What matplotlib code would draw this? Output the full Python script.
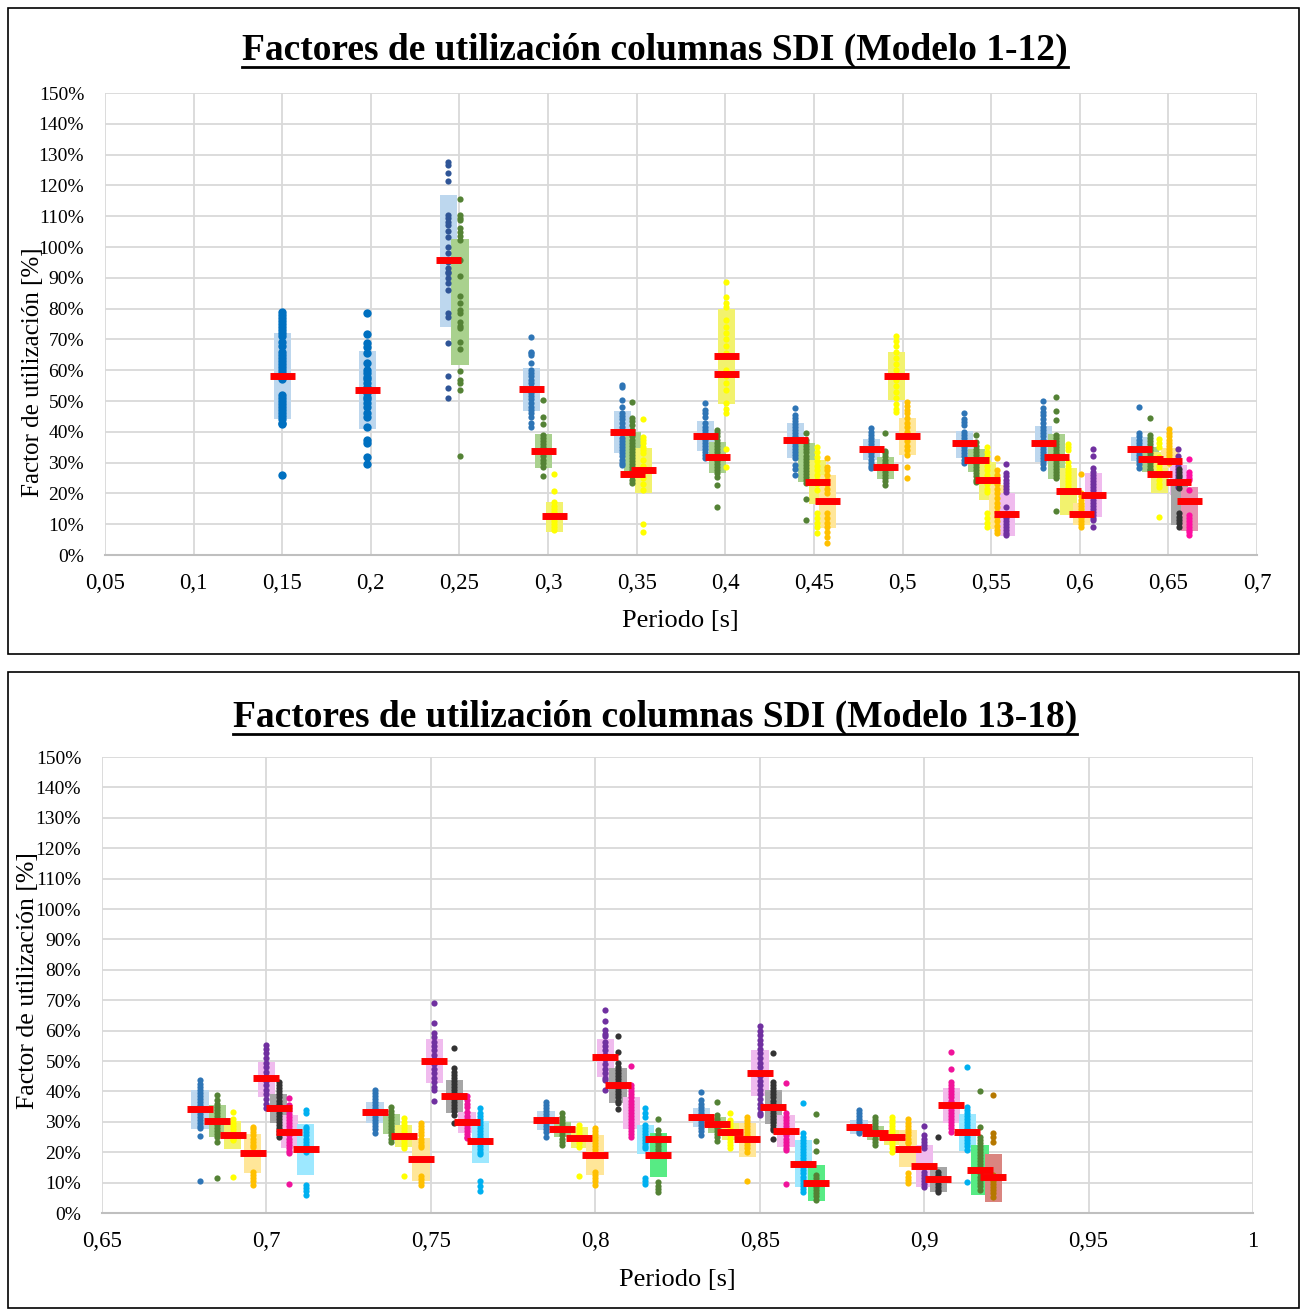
import matplotlib.pyplot as plt
from matplotlib.patches import Rectangle
from matplotlib.lines import Line2D

plt.rcParams['font.family'] = ['Liberation Serif', 'DejaVu Serif']

# ---------------- datos: Modelo 1-12 ----------------
top_x = [0.150, 0.198, 0.2436, 0.2503,
         0.2904, 0.2972, 0.3034,
         0.3418, 0.3474, 0.3536,
         0.3886, 0.3954, 0.4005,
         0.4394, 0.4456, 0.4518, 0.4575,
         0.4823, 0.4902, 0.4964, 0.5026,
         0.5348, 0.5415, 0.5477, 0.5534, 0.5585,
         0.5793, 0.5867, 0.5935, 0.6008, 0.6076,
         0.6335, 0.6397, 0.6448, 0.6505, 0.6555, 0.6560, 0.6617]
top_serie = ['azul0', 'azul0', 'azul2', 'verde',
             'azul', 'verde', 'amarillo',
             'azul', 'verde', 'amarillo',
             'azul', 'verde', 'amarillo',
             'azul', 'verde', 'amarillo', 'naranja',
             'azul', 'verde', 'amarillo', 'naranja',
             'azul', 'verde', 'amarillo', 'naranja', 'morado',
             'azul', 'verde', 'amarillo', 'naranja', 'morado',
             'azul', 'verde', 'amarillo', 'naranja', 'morado', 'negro', 'rosa']
top_lo = [44, 41, 74.1, 61.8,
          46.9, 28.3, 7.6,
          33, 26.7, 20.1,
          33.8, 26.5, 49,
          31.6, 23.8, 16.5, 8.8,
          30.8, 24.8, 50.3, 32.5,
          31.6, 26.8, 17.9, 8.4, 6.3,
          30.3, 24.6, 13.1, 9.7, 12.4,
          30.4, 27, 20.2, 28.1, 19.5, 9.7, 7.9]
top_hi = [72, 66.2, 116.9, 102.6,
          60.6, 39.3, 17.3,
          46.8, 39.9, 34.7,
          43.5, 36.7, 79.9,
          43, 36.4, 30.8, 26,
          37.7, 31.8, 65.9, 44.6,
          40.3, 34.4, 30.3, 22.7, 20,
          42, 39.3, 28.4, 16.8, 26.5,
          38.2, 35.2, 33.5, 34.6, 29.2, 24.4, 22]
top_media = [[58], [53.6], [95.7], [],
             [53.9], [33.8], [12.8],
             [39.9], [26.2], [27.6],
             [38.7], [31.7], [64.6, 58.8],
             [37.3], [], [23.7], [17.4],
             [34.4], [28.5], [58.1], [38.6],
             [36.5], [30.7], [24.4], [], [13.2],
             [36.4], [31.9], [20.9], [13.3], [19.6],
             [34.5], [31.1], [26.2], [30.4], [23.6], [], [17.4]]
top_puntos = [
    [79, 78, 77, 76, 75, 74, 73, 72, 71, 69, 68, 66, 65, 64, 63, 62, 61, 60, 59, 58, 57,
     52, 51, 50, 49, 48, 47, 46, 45, 44, 43, 42.5, 26],
    [78.6, 71.7, 68.8, 67.6, 65.6, 62.3, 60, 59, 57.9, 57, 55.8, 54.5, 53.6, 52.5, 51.4,
     50.5, 49.3, 48, 46, 44.9, 41.7, 37.3, 36.4, 31.9, 29.5],
    [127.7, 126.6, 124.1, 121.4, 110.4, 109.3, 108.2, 107.1, 105.3, 103.1, 99.9, 97.9, 95,
     93.1, 92, 91.5, 89.8, 88.2, 86, 78.5, 77.4, 68.7, 58.1, 54.2, 50.9],
    [115.7, 110.4, 109.5, 108.8, 106.2, 105, 103.5, 102.3, 95.8, 90.7, 84.2, 81.7, 79.5,
     78.6, 75.7, 74.5, 73.6, 69.3, 66.8, 59.7, 56.8, 55.8, 53.6, 32.1],
    [70.9, 66, 65.5, 64.9, 62.2, 60, 59, 58, 56.8, 55.8, 54.5, 53.5, 52.5, 51.5, 50.5, 49.5,
     48.1, 47, 46, 44.9, 42.8, 41.7],
    [50.3, 44.9, 42.5, 39, 38, 37, 36, 35, 34, 33, 32, 31, 30, 28.7, 25.6],
    [26.3, 20.8, 17.3, 16, 15, 14, 13, 12, 11, 10, 9, 8.1],
    [55.2, 54.6, 50.3, 48.1, 46, 45, 44, 43, 41.7, 38, 37, 36, 35, 34, 33, 32, 31, 30, 29.2],
    [49.6, 44.5, 43.5, 42.2, 40.6, 39.5, 38.5, 37.5, 36.5, 35.5, 34.5, 33.5, 32.5, 31.5,
     30.5, 29.5, 28.5, 27.5, 26.5, 25.5, 24.5, 23.4],
    [44.2, 38.4, 37.3, 36.4, 35, 34, 33, 31, 29, 27, 25, 23, 21.1, 10.1, 7.6],
    [49.5, 47, 46, 44.9, 42.8, 41.5, 40.5, 39.5, 38.5, 37.5, 36.5, 35.5, 34.5, 33.5, 32.5, 31.5],
    [40.6, 39.6, 38.5, 37.5, 36.5, 35.5, 34.5, 33.5, 32.5, 31.5, 30.5, 29.5, 28.5, 27.5,
     26.5, 25.4, 22.7, 15.7],
    [88.5, 83.9, 81.8, 80.6, 76.3, 74, 72, 70, 68, 65.6, 60, 58, 56, 53.6, 49.3, 47.5, 46.1,
     34.4, 28.7],
    [47.8, 45.5, 44.5, 43.5, 42.5, 41.5, 40.5, 39.5, 38.5, 37.5, 36.5, 35.5, 34.5, 33.5,
     32.5, 31.5, 29.2, 28, 26],
    [39.5, 37.3, 36.3, 35.3, 34.3, 33.3, 32.3, 31.3, 30.3, 29.3, 28.3, 27.3, 26.3, 25.3,
     24.3, 23.4, 18.2, 11.3],
    [35.2, 33.5, 31.9, 30.5, 29, 27.5, 26, 24.5, 23, 21.1, 13.5, 12, 10.5, 9, 7],
    [31.4, 28.7, 27.5, 26, 24.5, 23, 21.5, 20, 13.6, 12, 10.5, 9, 7.5, 6, 3.9],
    [41.2, 40, 39, 38, 37, 36, 35, 34, 33, 32, 31, 30, 29, 28.2],
    [39.6, 33.9, 33.1, 32, 31, 30, 29, 28, 27, 26, 25, 24, 22.7],
    [71, 69.5, 68, 66, 64, 62, 60, 58, 56.8, 55, 53, 51, 49, 47.5, 46.4],
    [49.8, 48.5, 47, 46, 44.5, 43, 41.5, 40, 38.5, 37, 35.5, 34, 32.5, 28.7, 24.9],
    [46, 44.2, 43.2, 42.2, 40, 39, 38, 37, 36, 35, 34, 33, 32, 31, 29.8],
    [39, 36.8, 35.5, 34.5, 33.5, 32.5, 31.5, 30.5, 29.5, 28.5, 27.5, 26.5, 25.5, 24.5, 23.8],
    [35.2, 33.5, 32, 30.5, 29, 27.5, 26, 24.5, 23, 21.5, 20.6, 13.6, 12, 10.5, 9.2],
    [31.4, 27.6, 26, 24.5, 23, 21.5, 20, 18.5, 17, 15.5, 14, 12.5, 11, 9.5, 8, 7.1],
    [29.4, 26.6, 25.5, 24.5, 23.5, 22.5, 21.5, 20.6, 15.7, 12, 11, 10, 9, 8, 7, 6.5],
    [50.1, 47.7, 46.5, 45.5, 44, 42.8, 41.7, 40.5, 39.5, 38.5, 37.5, 36.5, 35.5, 34.5, 33.5,
     32.5, 31.5, 30.5, 29.5, 28.1],
    [51.2, 46.9, 43.8, 39, 38, 37, 36, 35, 34, 33, 32, 31, 30, 29, 28, 27, 26, 24.9, 14.4],
    [36, 35, 34.1, 30.3, 29, 28, 27, 26, 25, 24, 23, 22, 21.1],
    [26.2, 20, 19, 18, 17, 16, 15, 14, 13, 12, 11, 10, 9.2],
    [34.3, 32.1, 28.1, 27, 26, 25, 24, 23, 22, 21, 20, 19, 18, 17, 16, 15, 14, 13, 12, 11.4, 9.1],
    [48.1, 39.5, 38.5, 37.5, 36.5, 35.5, 34.5, 33.5, 32.5, 31.5, 30.5, 29.5, 28.1],
    [44.4, 39, 38, 37, 36, 35, 34, 33, 32, 31, 30, 29, 28, 27.6],
    [37.6, 36.5, 35.2, 31.9, 30.5, 29, 27.5, 26, 24.5, 23, 22.2, 12.4],
    [40.8, 39.5, 38.5, 37.5, 36.5, 35.5, 34.5, 33.5, 32.5, 31.5, 30.5, 29.8],
    [34.3, 32.1, 29, 28, 27, 26, 25, 24, 23, 22],
    [28, 27, 26, 25.4, 24, 23, 21.6, 13.5, 12.5, 11.5, 10.5, 9.2],
    [31.1, 27, 26, 25, 24.4, 21.1, 13, 12, 11, 10, 9, 8, 7.5, 6.5],
]

# ---------------- datos: Modelo 13-18 ----------------
bot_x = [0.6798, 0.6850, 0.6898, 0.6959, 0.6999, 0.7038, 0.7069, 0.7120,
         0.7330, 0.7379, 0.7418, 0.7470, 0.7510, 0.7571, 0.7610, 0.7650,
         0.7850, 0.7899, 0.7951, 0.7999, 0.8030, 0.8069, 0.8109, 0.8152, 0.8191,
         0.8322, 0.8370, 0.8410, 0.8462, 0.8501, 0.8541, 0.8580, 0.8632, 0.8672,
         0.8802, 0.8851, 0.8903, 0.8951, 0.9000, 0.9043, 0.9082, 0.9131, 0.9170, 0.9210]
bot_serie = ['azul', 'verde', 'amarillo', 'naranja', 'morado', 'negro', 'magenta', 'cian',
             'azul', 'verde', 'amarillo', 'naranja', 'morado', 'negro', 'magenta', 'cian',
             'azul', 'verde', 'amarillo', 'naranja', 'morado', 'negro', 'magenta', 'cian', 'verde2',
             'azul', 'verde', 'amarillo', 'naranja', 'morado', 'negro', 'magenta', 'cian', 'verde2',
             'azul', 'verde', 'amarillo', 'naranja', 'morado', 'negro', 'magenta', 'cian', 'verde2',
             'marron']
bot_lo = [27.6, 25.1, 21, 13.1, 38.3, 29.5, 21.3, 12.5,
          29.5, 26, 21.6, 10.6, 42.7, 32.8, 26.4, 16.6,
          27.3, 25.1, 21.5, 12.5, 44.6, 36.1, 27.7, 19.4, 11.7,
          28.4, 26.2, 24, 18.5, 38.5, 29.2, 21.6, 8.5, 4,
          25.9, 24, 22.4, 15.2, 8.7, 7, 29.5, 20.4, 5.8, 3.7]
bot_hi = [40.5, 35.5, 30.4, 26, 49.8, 39.1, 32.2, 29.3,
          36.4, 32.6, 28.9, 24.6, 57.1, 43.8, 33.3, 30.3,
          33.6, 30, 28.2, 25.7, 57.1, 47.6, 38.1, 28.9, 26.2,
          34.4, 31.5, 29.5, 29.5, 53.6, 40.5, 32.2, 24, 15.8,
          30.6, 28.6, 27.3, 27.3, 22.3, 15.2, 41, 32.6, 22.3, 19.4]
bot_media = [[34.1], [30.4], [25.7], [19.6], [44.3], [34.4], [26.7], [21.2],
             [33.2], [], [25.4], [17.8], [49.9], [38.5], [29.8], [23.7],
             [30.6], [27.7], [24.8], [19.1], [51.2], [42], [], [], [24.3, 19.1],
             [31.7], [29.2], [26.7], [24.2], [46.2], [34.8], [27], [16.2], [10],
             [28.3], [26.4], [25], [21.2], [15.6], [11.3], [35.6], [26.5], [14.2], [11.7]]
bot_puntos = [
    [43.8, 42.5, 41.5, 40.5, 39.5, 38.5, 37.5, 36.5, 35.5, 34.5, 33.5, 32.5, 31.5, 30.5,
     29.5, 28.5, 27.9, 25.3, 10.5],
    [38.7, 37.2, 36, 35, 34, 33, 32, 31, 30, 29, 28, 27, 26, 25, 23.5, 11.4],
    [33.2, 30.8, 29.5, 28.5, 27.5, 26.5, 25.5, 24.5, 24, 11.7],
    [28.4, 27.5, 26.5, 25.5, 24.5, 23.5, 22.5, 21.8, 13.6, 12.5, 11.5, 10.5, 9.2],
    [55.3, 54, 52.5, 51, 49.5, 48, 46.5, 45, 43.5, 42, 40.5, 39, 37.5, 36, 34.4],
    [43.2, 42, 41, 40, 39, 38, 37, 36, 35, 34, 33, 32, 31, 30, 29, 28, 27, 26, 25.1],
    [37.7, 35.5, 34.5, 33.5, 32.5, 31.5, 30.5, 29.5, 28.5, 27.5, 26.5, 25.5, 24.5, 23.5,
     22.5, 21.5, 20.5, 19.6, 9.6],
    [33.9, 32.8, 28.4, 27.5, 26.5, 25.5, 24.5, 23.5, 22.5, 21.5, 20.2, 9.2, 8.2, 7.2, 5.9],
    [40.5, 39.5, 38.5, 37.5, 36.5, 35.5, 34.5, 33.5, 32.5, 31.5, 30.5, 29.5, 28.5, 27.5, 26.2],
    [34.8, 33.5, 32.5, 31.5, 30.5, 29.5, 28.5, 27.5, 26.5, 25.5, 24.5, 23.5],
    [31.1, 30, 29, 28, 27, 26, 25, 24, 23, 22, 21.3, 12.2],
    [29.5, 28.5, 27.5, 26.5, 25.5, 24.5, 23.5, 22.5, 21.8, 12.2, 11.2, 10.2, 9.2],
    [69, 62.6, 59.1, 58, 56.4, 55, 53.5, 52, 50.5, 49, 47.5, 46, 44.5, 43, 41.5, 40.5, 36.8],
    [54.2, 47.8, 46.5, 45.5, 44.5, 43.5, 42.5, 41.5, 40.5, 39.5, 38.5, 37.5, 36.5, 35.5,
     34.5, 33.5, 32.2, 29.5],
    [38.5, 37.2, 36, 35, 33.3, 32, 31, 30, 29, 28, 27, 26, 25, 24.6],
    [34.4, 33, 32, 31, 30, 29, 28, 27, 26, 25, 24, 23, 22, 21, 20, 19.4, 10.6, 9, 7.3],
    [36.6, 35.5, 34.5, 33.5, 32.5, 31.5, 30.5, 29.5, 28.5, 27.5, 26.5, 25.1],
    [32.8, 31.5, 30.5, 29.5, 28.5, 27.5, 26.5, 25.5, 24.5, 23.5, 22.4],
    [28.9, 28, 27, 26, 25, 24, 23, 21.8, 12.2],
    [27.9, 27, 26, 25, 24, 23, 22, 21, 20, 19.1, 13.6, 12.5, 11.5, 10.5, 9.2],
    [66.8, 63.3, 60.2, 59, 58.2, 56.4, 55, 53.5, 52, 50.5, 49, 47.5, 46, 44.5, 43.8, 40.5],
    [58.2, 53.1, 49.2, 48, 47, 46, 45, 44, 43, 42, 41, 40, 39, 38, 37, 36.1, 34.1],
    [48.4, 42.1, 41, 40, 39, 38, 37, 36, 35, 34, 33, 32, 31, 30, 29, 28, 27, 26, 25.1],
    [34.4, 33, 31.7, 28.9, 28, 27, 26, 25, 24, 23, 22, 21.3, 11.4, 10.5, 9.5],
    [30.9, 27.3, 26, 25, 24, 23, 22, 21, 20, 19.6, 10.3, 9, 8, 7],
    [39.9, 37.2, 36, 35, 34, 33, 32, 31, 30, 29, 28, 27, 25.7],
    [36.6, 32.2, 31, 30, 29, 28, 27, 26, 25, 23.8],
    [33, 30.6, 29.5, 28.5, 27.5, 26.5, 25.5, 24.5, 23.5, 22.5, 21.3],
    [31.5, 30.5, 29.5, 28.5, 27.5, 26.5, 25.5, 24.5, 23.5, 22.5, 21.5, 20.2, 10.6],
    [61.5, 60, 58.5, 57, 55.5, 54, 52.5, 51, 49.5, 48, 46.5, 45, 43.5, 42, 40.5, 39, 37.5,
     36, 34.5, 33, 32.2],
    [52.5, 43.2, 42, 41, 40, 39, 38, 37, 36, 35, 34, 33, 32, 31, 30, 29, 28, 27.3, 24.2],
    [42.9, 32.8, 31.5, 30.5, 29.5, 28.5, 27.5, 26.5, 25.5, 24.5, 23.5, 22.5, 21.5, 20.7, 9.5],
    [36.3, 26.2, 25, 24, 23, 22, 21, 20, 19, 18, 17, 16, 15, 14, 13, 12, 11, 10, 9, 8, 7],
    [32.6, 23.8, 20.5, 12.5, 11.5, 10.5, 9.5, 8.5, 7.5, 6.5, 5.5, 4.3],
    [33.9, 33, 32, 31, 30, 29, 28, 27, 26.2],
    [31.7, 30.5, 29.5, 28.5, 27.5, 26.5, 25.5, 24.5, 23.5, 22.4],
    [31.5, 30.5, 29.5, 28.5, 27.5, 26.5, 25.5, 24.5, 23.5, 22.5, 21.5, 20.2],
    [30.8, 29.5, 28.5, 27.5, 26.5, 25.5, 24.5, 23.5, 22.9, 13.1, 12, 10.9, 9.8],
    [28.6, 25.7, 24.5, 23.5, 22.5, 21.3, 13.6, 12.5, 11.5, 10.5, 9.5, 8.7],
    [24.9, 13.6, 12.5, 11.5, 10.5, 9.5, 8.5, 7.5, 7],
    [53.1, 47.3, 43.2, 42, 41, 40, 39, 38, 37, 36, 35, 34, 33, 32, 31, 30, 29, 28, 26.7],
    [48.1, 35, 34, 33, 32, 31, 30, 29, 28, 27, 26, 25, 24, 23, 22, 20.7, 10.2],
    [40.2, 28.4, 25.1, 24, 23, 22, 21, 20, 19, 18, 17, 16, 15, 14, 13, 12, 11, 10, 9, 7.6],
    [38.8, 26.2, 25, 23.5, 12.5, 11.5, 10.5, 9.5, 8.5, 7.5, 6.5, 5.4],
]

# colores (punto, caja) por serie
colores = {
    'azul0': ('#0070C0', '#BDD7EE'),
    'azul': ('#2E75B6', '#BDD7EE'),
    'azul2': ('#2F5597', '#BDD7EE'),
    'verde': ('#548235', '#A9D18E'),
    'amarillo': ('#FFFF00', '#F2F26E'),
    'naranja': ('#FFC000', '#FFE699'),
    'morado': ('#7030A0', '#F0BBEE'),
    'negro': ('#333333', '#A6A6A6'),
    'rosa': ('#FF0DA0', '#E892B2'),
    'magenta': ('#F0139B', '#F2BBEA'),
    'cian': ('#00B0F0', '#9DE8FF'),
    'verde2': ('#548235', '#57EB84'),
    'marron': ('#B57800', '#DA8580'),
}

W, H = 1300, 1309
fig = plt.figure(figsize=(W / 100, H / 100), dpi=100)


def fy(py):
    return 1 - py / H


def dibujar(ax, xs, series, lo, hi, medias, puntos, w_caja, w_media, xmin, xmax):
    for x, s, a, b in zip(xs, series, lo, hi):
        ax.add_patch(Rectangle((x - w_caja / 2, a), w_caja, b - a, color=colores[s][1],
                               lw=0, zorder=2))
    for x, s, p in zip(xs, series, puntos):
        tam = 36 if s == 'azul0' else 20
        ax.scatter([x] * len(p), p, s=tam, color=colores[s][0], lw=0, zorder=3)
    for x, m in zip(xs, medias):
        for v in m:
            ax.plot([x - w_media / 2, x + w_media / 2], [v, v], color='#FF0000', lw=5,
                    solid_capstyle='butt', zorder=4)
    ax.set_xlim(xmin, xmax)
    ax.set_ylim(0, 150)
    ticks = [round(xmin + 0.05 * i, 2) for i in range(int(round((xmax - xmin) / 0.05)) + 1)]
    ax.set_xticks(ticks)
    ax.set_xticklabels([f"{t:g}".replace('.', ',') for t in ticks])
    ax.set_yticks(range(0, 151, 10))
    ax.set_yticklabels([f"{v}%" for v in range(0, 151, 10)])
    ax.grid(True, color='#D9D9D9', lw=1.3, zorder=0)
    ax.set_axisbelow(True)
    for sp in ['top', 'right', 'left']:
        ax.spines[sp].set_visible(False)
    ax.spines['bottom'].set_color('#BFBFBF')
    ax.spines['bottom'].set_linewidth(1.5)
    ax.tick_params(axis='x', length=0, pad=13, labelsize=16.5)
    ax.tick_params(axis='y', length=0, pad=15, labelsize=14)


ax1 = fig.add_axes([105 / W, fy(555), 1152 / W, 462 / H])
dibujar(ax1, top_x, top_serie, top_lo, top_hi, top_media, top_puntos, 0.0096, 0.0141, 0.05, 0.7)
ax2 = fig.add_axes([102 / W, fy(1213), 1151 / W, 456 / H])
dibujar(ax2, bot_x, bot_serie, bot_lo, bot_hi, bot_media, bot_puntos, 0.0052, 0.0079, 0.65, 1.0)

# marcos
fig.add_artist(Rectangle((8 / W, fy(654)), 1291 / W, 646 / H, transform=fig.transFigure,
                         fill=False, ec='black', lw=1.2))
fig.add_artist(Rectangle((8 / W, fy(1308)), 1291 / W, 636 / H, transform=fig.transFigure,
                         fill=False, ec='black', lw=1.2))

# textos
t1 = fig.text(655 / W, fy(50), 'Factores de utilización columnas SDI (Modelo 1-12)',
              fontsize=27, weight='bold', ha='center', va='center')
t2 = fig.text(655 / W, fy(717), 'Factores de utilización columnas SDI (Modelo 13-18)',
              fontsize=27, weight='bold', ha='center', va='center')
fig.text(680 / W, fy(621), 'Periodo [s]', fontsize=19, ha='center', va='center')
fig.text(677 / W, fy(1280), 'Periodo [s]', fontsize=19, ha='center', va='center')
fig.text(33 / W, fy(372), 'Factor de utilización [%]', fontsize=18, rotation=90,
         ha='center', va='center')
fig.text(28 / W, fy(981), 'Factor de utilización [%]', fontsize=18.5, rotation=90,
         ha='center', va='center')

# subrayado de los titulos
fig.canvas.draw()
for t in (t1, t2):
    bb = t.get_window_extent()
    y = (bb.y0 + 1) / H
    fig.add_artist(Line2D([bb.x0 / W, bb.x1 / W], [y, y], transform=fig.transFigure,
                          color='black', lw=2))

fig.savefig('out.png', dpi=100)
